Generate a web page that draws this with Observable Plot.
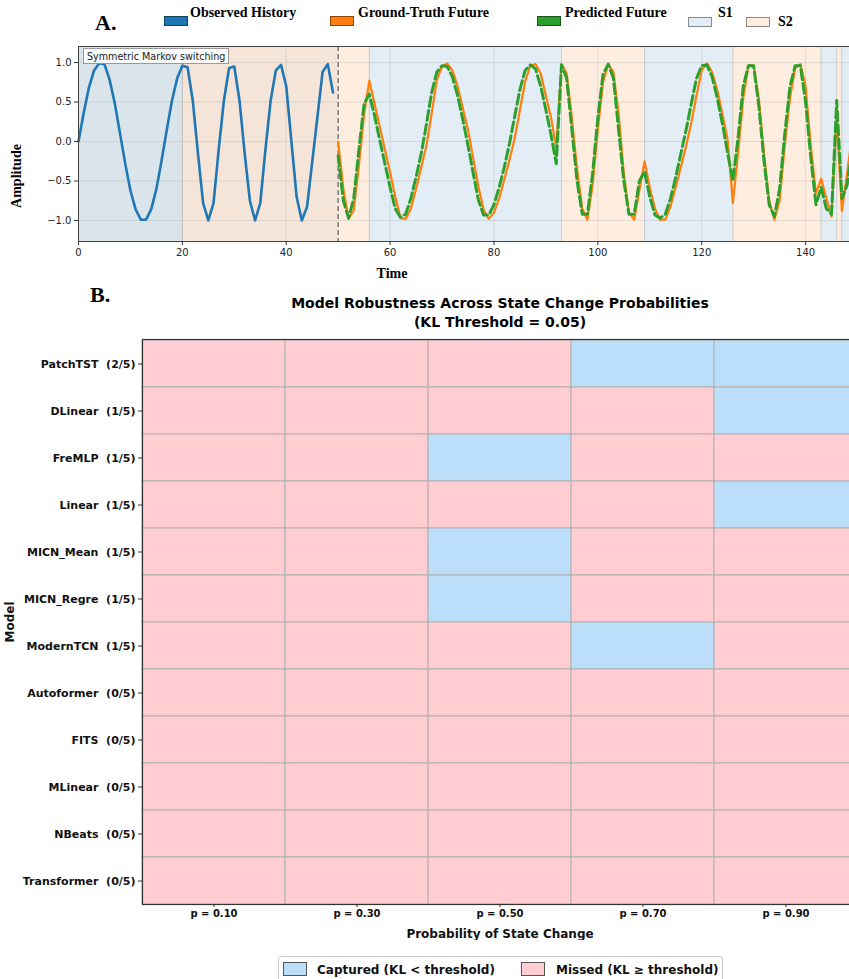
<!DOCTYPE html>
<html><head><meta charset="utf-8">
<script src="https://cdn.jsdelivr.net/npm/d3@7"></script>
<script src="https://cdn.jsdelivr.net/npm/@observablehq/plot@0.6"></script>
<style>
html,body{margin:0;padding:0;background:#fff;overflow:hidden;width:849px;height:979px}
#root{position:relative;width:860px;height:979px;overflow:hidden}
.abs{position:absolute;white-space:nowrap;line-height:1}
.serifb{font-family:"Liberation Serif","DejaVu Serif",serif;font-weight:bold;color:#000}
.sw{position:absolute;width:24px;height:10px;box-sizing:border-box;border:1px solid rgba(0,0,0,0.45)}
#annot{left:83px;top:48px;height:16px;box-sizing:border-box;border:1px solid #9a9a9a;background:rgba(255,255,255,0.85);font:9.6px "DejaVu Sans",sans-serif;color:#222;padding:2px 3px 0 3px}
#chartB g[aria-label="y-axis label"] text,#chartB g[aria-label="x-axis label"] text{font-size:12px}
#legB{left:278px;top:956px;width:445px;height:27px;box-sizing:border-box;border:1px solid #c8c8c8;border-radius:3px;background:#fff}
.lb{position:absolute;font:bold 12px "DejaVu Sans",sans-serif;color:#111;line-height:1}
.sb{position:absolute;width:24px;height:14px;box-sizing:border-box;border:1px solid #555}
</style>
</head><body>
<div id="root">
  <div class="abs serifb" style="left:95px;top:12px;font-size:22px">A.</div>
  <div class="sw" style="left:164px;top:16px;background:#1f77b4"></div>
  <div class="abs serifb" style="left:190px;top:6px;font-size:14px">Observed History</div>
  <div class="sw" style="left:330px;top:16px;background:#ff7f0e"></div>
  <div class="abs serifb" style="left:358px;top:6px;font-size:14px">Ground-Truth Future</div>
  <div class="sw" style="left:537px;top:16px;background:#2ca02c"></div>
  <div class="abs serifb" style="left:565px;top:6px;font-size:14px">Predicted Future</div>
  <div class="sw" style="left:688px;top:17px;background:#e3edf5;border-color:#888"></div>
  <div class="abs serifb" style="left:718px;top:6px;font-size:14px">S1</div>
  <div class="sw" style="left:746px;top:17px;background:#fdeee0;border-color:#888"></div>
  <div class="abs serifb" style="left:778px;top:15px;font-size:14px">S2</div>

  <div id="chartA" class="abs" style="left:0;top:40px"></div>
  <div id="annot" class="abs">Symmetric Markov switching</div>
  <div class="abs serifb" style="left:392px;top:274px;font-size:14px;transform:translate(-50%,-50%)">Time</div>
  <div class="abs serifb" style="left:17px;top:176px;font-size:14px;transform:translate(-50%,-50%) rotate(-90deg)">Amplitude</div>

  <div class="abs serifb" style="left:90px;top:284px;font-size:22px">B.</div>
  <div class="abs" style="left:500px;top:294px;transform:translateX(-50%);font:bold 14px 'DejaVu Sans',sans-serif;color:#000;text-align:center;line-height:19px">Model Robustness Across State Change Probabilities<br>(KL Threshold = 0.05)</div>

  <div id="chartB" class="abs" style="left:0;top:330px"></div>

  <div id="legB" class="abs">
    <div class="sb" style="left:4px;top:5px;background:#bbdefb"></div>
    <div class="lb" style="left:38px;top:7px">Captured (KL &lt; threshold)</div>
    <div class="sb" style="left:242px;top:5px;background:#ffcdd2"></div>
    <div class="lb" style="left:277px;top:7px">Missed (KL ≥ threshold)</div>
  </div>
</div>
<script>
// ---------- Panel A data ----------
const observed = [0.00, 0.36, 0.68, 0.90, 0.99, 0.98, 0.78, 0.48, 0.10, -0.28,
  -0.62, -0.86, -0.99, -0.99, -0.86, -0.60, -0.24, 0.15, 0.52, 0.80,
  0.96, 0.94, 0.52, -0.15, -0.78, -1.00, -0.78, -0.10, 0.52, 0.93,
  0.95, 0.52, -0.15, -0.75, -1.00, -0.78, -0.10, 0.52, 0.90, 0.97,
  0.70, 0.00, -0.70, -1.00, -0.83, -0.26, 0.31, 0.88, 0.98, 0.62];
const futureStart = 50;
const groundTruth = [0.00, -0.60, -0.98, -0.87, -0.30, 0.35, 0.77, 0.48, 0.19, -0.10,
  -0.39, -0.70, -0.97, -0.98, -0.85, -0.60, -0.33, -0.05, 0.35, 0.78,
  0.95, 0.99, 0.90, 0.70, 0.42, 0.15, -0.21, -0.57, -0.86, -0.98,
  -0.90, -0.72, -0.48, -0.23, 0.04, 0.40, 0.76, 0.96, 0.98, 0.86,
  0.58, 0.30, -0.08, 0.98, 0.86, 0.30, -0.35, -0.85, -0.99, -0.55,
  0.15, 0.75, 0.98, 0.88, 0.35, -0.40, -0.90, -0.99, -0.62, -0.25,
  -0.58, -0.85, -0.99, -0.99, -0.82, -0.58, -0.32, -0.06, 0.24, 0.58,
  0.90, 0.99, 0.88, 0.65, 0.35, 0.02, -0.78, -0.15, 0.55, 0.96,
  0.96, 0.55, -0.15, -0.75, -0.99, -0.75, -0.05, 0.55, 0.93, 0.98,
  0.70, -0.05, -0.66, -0.47, -0.72, -0.95, 0.30, -0.88, -0.40, 0.10];
const predicted = [-0.18, -0.75, -0.97, -0.72, -0.10, 0.48, 0.60, 0.33, 0.02, -0.28,
  -0.58, -0.85, -0.96, -0.92, -0.72, -0.45, -0.15, 0.22, 0.62, 0.88,
  0.96, 0.95, 0.82, 0.58, 0.28, -0.05, -0.40, -0.74, -0.93, -0.93,
  -0.80, -0.58, -0.32, -0.02, 0.32, 0.66, 0.90, 0.97, 0.92, 0.70,
  0.40, 0.08, -0.28, 0.97, 0.80, 0.15, -0.50, -0.92, -0.92, -0.40,
  0.30, 0.85, 0.98, 0.80, 0.15, -0.50, -0.92, -0.92, -0.50, -0.38,
  -0.70, -0.93, -0.97, -0.92, -0.72, -0.45, -0.15, 0.15, 0.48, 0.80,
  0.96, 0.97, 0.82, 0.55, 0.22, -0.15, -0.50, 0.05, 0.70, 0.96,
  0.96, 0.45, -0.25, -0.80, -0.95, -0.60, 0.10, 0.70, 0.96, 0.96,
  0.50, -0.20, -0.80, -0.58, -0.85, -0.92, 0.52, -0.72, -0.55, -0.10];
const regionStart = [0, 20, 56, 93, 109, 126, 143, 146, 147];
const regionEnd   = [20, 56, 93, 109, 126, 143, 146, 147, 150];
const regionState = ["S1", "S2", "S1", "S2", "S1", "S2", "S1", "S2", "S1"];
const timeTicks = [0, 20, 40, 60, 80, 100, 120, 140];
const ampTicks = [-1.0, -0.5, 0.0, 0.5, 1.0];

// ---------- Panel B data ----------
const models = ["PatchTST", "DLinear", "FreMLP", "Linear", "MICN_Mean", "MICN_Regre",
  "ModernTCN", "Autoformer", "FITS", "MLinear", "NBeats", "Transformer"];
const probLabels = ["p = 0.10", "p = 0.30", "p = 0.50", "p = 0.70", "p = 0.90"];
const captured = [
  [0, 0, 0, 1, 1],
  [0, 0, 0, 0, 1],
  [0, 0, 1, 0, 0],
  [0, 0, 0, 0, 1],
  [0, 0, 1, 0, 0],
  [0, 0, 1, 0, 0],
  [0, 0, 0, 1, 0],
  [0, 0, 0, 0, 0],
  [0, 0, 0, 0, 0],
  [0, 0, 0, 0, 0],
  [0, 0, 0, 0, 0],
  [0, 0, 0, 0, 0]];
const statusNames = ["Captured", "Missed"];
const statusColors = ["#bbdefb", "#ffcdd2"];

// ---------- build ----------
const obsData = observed.map((v, i) => ({t: i, v}));
const gtData = groundTruth.map((v, i) => ({t: futureStart + i, v}));
const prData = predicted.map((v, i) => ({t: futureStart + i, v}));
const regions = regionStart.map((s, i) => ({start: s, end: regionEnd[i], state: regionState[i]}));
const fmt = d => d.toFixed(1).replace("-", "\u2212");

const chartA = Plot.plot({
  width: 860, height: 245,
  marginLeft: 78, marginRight: 3, marginTop: 6, marginBottom: 44,
  style: {fontFamily: "'DejaVu Sans', sans-serif", fontSize: "10px", color: "#222", background: "transparent"},
  x: {domain: [0, 150]},
  y: {domain: [-1.266, 1.203]},
  marks: [
    Plot.rect(regions.filter(d => d.state === "S1"), {x1: "start", x2: "end", fill: "#1f77b4", fillOpacity: 0.13}),
    Plot.rect(regions.filter(d => d.state === "S2"), {x1: "start", x2: "end", fill: "#ff7f0e", fillOpacity: 0.13}),
    Plot.rect([{a: 0, b: futureStart}], {x1: "a", x2: "b", fill: "#808080", fillOpacity: 0.08}),
    Plot.ruleX(regionStart.slice(1), {stroke: "#9aa4ad", strokeOpacity: 0.45, strokeWidth: 1}),
    Plot.gridX(timeTicks, {stroke: "#b0b0b0", strokeOpacity: 0.35}),
    Plot.gridY(ampTicks, {stroke: "#b0b0b0", strokeOpacity: 0.35}),
    Plot.ruleX([futureStart], {stroke: "#777", strokeWidth: 1.5, strokeDasharray: "5,3"}),
    Plot.line(obsData, {x: "t", y: "v", stroke: "#1f77b4", strokeWidth: 2.6}),
    Plot.line(gtData, {x: "t", y: "v", stroke: "#ff7f0e", strokeWidth: 2.2}),
    Plot.line(prData, {x: "t", y: "v", stroke: "#2ca02c", strokeWidth: 3, strokeDasharray: "10,4"}),
    Plot.frame({stroke: "#444", strokeWidth: 1}),
    Plot.axisX(timeTicks, {tickSize: 4, tickPadding: 3, label: null, stroke: "#333"}),
    Plot.axisY(ampTicks, {tickSize: 4, tickPadding: 3, tickFormat: fmt, label: null, stroke: "#333"})
  ]
});
document.getElementById("chartA").appendChild(chartA);

const rowLabel = models.map((m, i) => `${m}\u00a0\u00a0(${d3.sum(captured[i])}/${probLabels.length})`);
const cells = models.flatMap((m, i) => probLabels.map((p, j) => ({
  model: rowLabel[i], p, status: captured[i][j] ? statusNames[0] : statusNames[1]
})));

const chartB = Plot.plot({
  width: 860, height: 610,
  marginLeft: 142, marginRight: 3, marginTop: 9, marginBottom: 36,
  style: {fontFamily: "'DejaVu Sans', sans-serif", fontSize: "10px", fontWeight: "bold", color: "#111", background: "transparent"},
  x: {domain: probLabels, padding: 0},
  y: {domain: rowLabel, padding: 0},
  color: {domain: statusNames, range: statusColors},
  marks: [
    Plot.cell(cells, {x: "p", y: "model", fill: "status", stroke: "#b0b0b0", strokeWidth: 1, inset: 0}),
    Plot.frame({stroke: "#333", strokeWidth: 1.2}),
    Plot.axisX({tickSize: 3, tickPadding: 2, stroke: "#333", label: "Probability of State Change", labelAnchor: "center", labelArrow: "none", labelOffset: 33}),
    Plot.axisY({tickSize: 4, tickPadding: 3, stroke: "#333", fontSize: 11, label: "Model", labelAnchor: "center", labelArrow: "none", labelOffset: 137})
  ]
});
document.getElementById("chartB").appendChild(chartB);
</script>
</body></html>
